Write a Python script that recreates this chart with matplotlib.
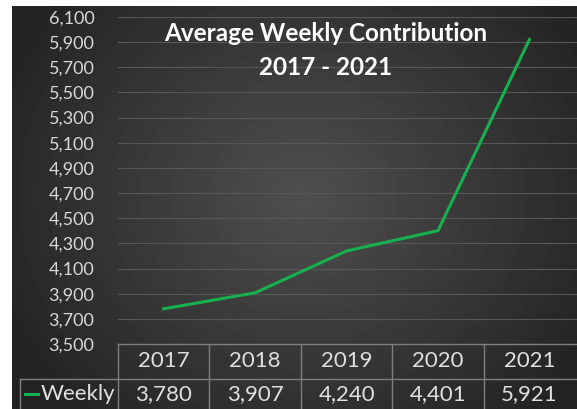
import numpy as np
import matplotlib.pyplot as plt
from matplotlib.transforms import blended_transform_factory

years = ["2017", "2018", "2019", "2020", "2021"]
weekly = [3780, 3907, 4240, 4401, 5921]
y_ticks = list(range(3500, 6101, 200))

W, H = 577, 409
fig = plt.figure(figsize=(W / 100, H / 100), dpi=100)
fig.patch.set_facecolor("white")
plt.rcParams['font.family'] = ['Lato', 'DejaVu Sans']

# dark radial background, white strip left and top
bg = fig.add_axes([12 / W, 0, 1 - 12 / W, 1 - 6 / H])
bg.set_axis_off()
yy, xx = np.mgrid[0:403, 0:565]
r = np.sqrt(((xx - 290) / 330.0) ** 2 + ((yy - 190) / 300.0) ** 2)
shade = np.clip(0.31 - 0.17 * r, 0.14, 0.31)
bg.imshow(shade, cmap="gray", vmin=0, vmax=1, aspect="auto", interpolation="bilinear")

ax = fig.add_axes([118 / W, 1 - 344 / H, (577 - 118) / W, (344 - 17) / H])
ax.patch.set_alpha(0)
x = np.arange(len(years))
ax.plot(x, weekly, color="#17b04f", lw=2.2, solid_joinstyle="miter")
ax.set_xlim(-0.5, 4.5 + 0.02)
ax.set_ylim(3500, 6100)
ax.set_yticks(y_ticks)
ax.set_yticklabels([f"{v:,}" for v in y_ticks], color="#d8d8d8", fontsize=13)
ax.tick_params(axis="y", length=0, pad=17)
ax.set_xticks([])
ax.yaxis.grid(True, color="#575757", lw=0.8)
ax.set_axisbelow(True)
for s in ax.spines.values():
    s.set_visible(False)

ax.text(0.453, 0.985, "Average Weekly Contribution\n2017 - 2021", transform=ax.transAxes,
        ha="center", va="top", color="white", fontsize=17.5, fontweight="bold",
        linespacing=1.6)

# data table under the plot
tr = blended_transform_factory(ax.transData, ax.transAxes)
px = 1 / 327.0
line_kw = dict(color="#7f7f7f", lw=1, clip_on=False)
row1, row2 = -35 * px, -80 * px
ax.plot([-0.5, 4.6], [0, 0], transform=tr, **line_kw)
ax.plot([-1.57, 4.6], [row1, row1], transform=tr, **line_kw)
ax.plot([-1.57, -1.57], [row1, row2], transform=tr, **line_kw)
for i in range(5):
    ax.plot([i - 0.5, i - 0.5], [0, row2], transform=tr, **line_kw)
    ax.text(i, -17 * px, years[i], transform=tr, ha="center", va="center",
            color="#e0e0e0", fontsize=16)
    ax.text(i, -50 * px, f"{weekly[i]:,}", transform=tr, ha="center", va="center",
            color="#e0e0e0", fontsize=16)
ax.plot([-1.52, -1.37], [-50 * px, -50 * px], transform=tr, color="#17b04f", lw=2.2,
        clip_on=False)
ax.text(-0.53, -50 * px, "Weekly", transform=tr, ha="right", va="center",
        color="#e0e0e0", fontsize=16)

fig.savefig("out.png", dpi=100, facecolor=fig.get_facecolor())
